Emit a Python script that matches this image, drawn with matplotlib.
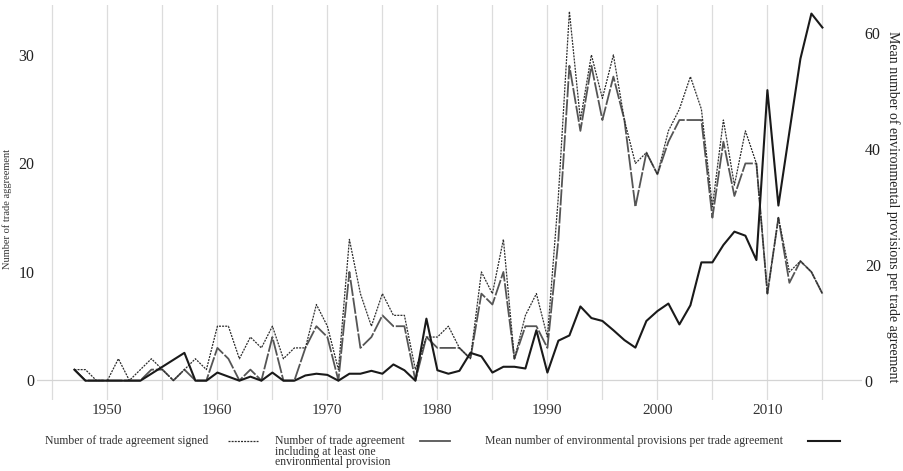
import numpy as np
import matplotlib
matplotlib.use('Agg')
import matplotlib.pyplot as plt
from matplotlib.lines import Line2D

plt.rcParams['font.family'] = ['Liberation Serif', 'DejaVu Serif']

# data
years = list(range(1947, 2016))

signed = [1, 1, 0, 0, 2, 0, 1, 2, 1, 0,
          1, 2, 1, 5, 5, 2, 4, 3, 5, 2,
          3, 3, 7, 5, 1, 13, 8, 5, 8, 6,
          6, 1, 4, 4, 5, 3, 2, 10, 8, 13,
          2, 6, 8, 4, 17, 34, 24, 30, 26, 30,
          24, 20, 21, 19, 23, 25, 28, 25, 16, 24,
          18, 23, 20, 8, 15, 10, 11, 10, 8]

with_env = [1, 0, 0, 0, 0, 0, 0, 1, 1, 0,
            1, 0, 0, 3, 2, 0, 1, 0, 4, 0,
            0, 3, 5, 4, 0, 10, 3, 4, 6, 5,
            5, 0, 4, 3, 3, 3, 2, 8, 7, 10,
            2, 5, 5, 3, 13, 29, 23, 29, 24, 28,
            24, 16, 21, 19, 22, 24, 24, 24, 15, 22,
            17, 20, 20, 8, 15, 9, 11, 10, 8]

mean_prov = [1.9, 0, 0, 0, 0, 0, 0, 1.2, 2.4, 3.6,
             4.8, 0, 0, 1.4, 0.7, 0, 0.7, 0, 1.4, 0,
             0, 0.9, 1.2, 1.0, 0, 1.2, 1.2, 1.7, 1.2, 2.8,
             1.8, 0, 10.7, 1.8, 1.2, 1.7, 4.8, 4.2, 1.4, 2.4,
             2.4, 2.1, 8.7, 1.4, 6.9, 7.8, 12.8, 10.8, 10.3, 8.7,
             7.0, 5.7, 10.3, 12.0, 13.3, 9.7, 13.0, 20.4, 20.4, 23.4,
             25.7, 25.0, 20.8, 50.1, 30.2, 42.9, 55.5, 63.3, 60.9]

left_ticks = [0, 10, 20, 30]
left_ticklabels = ['0', '10', '20', '30']
right_ticks = [0, 20, 40, 60]
right_ticklabels = ['0', '20', '40', '60']
year_ticks = [1950, 1960, 1970, 1980, 1990, 2000, 2010]

fig = plt.figure(figsize=(9.04, 4.71), dpi=100)
ax = fig.add_axes([37/904, 1-400/471, 825/904, 395/471])
ax2 = ax.twinx()

ax.set_xlim(1943.6, 2018.6)
ax.set_ylim(-1.8, 34.6)
ax2.set_ylim(-3.33, 64.78)

# vertical grid every 5 years
for yr in range(1945, 2016, 5):
    ax.axvline(yr, color='#dcdcdc', lw=0.9, zorder=0)
ax.axhline(0, color='#d4d4d4', lw=0.9, zorder=0)

ax.plot(years, signed, color='#2e2e2e', lw=0.9, dashes=(1.6, 0.9), zorder=3)
ax.plot(years, with_env, color='#555555', lw=1.3, dashes=(9, 1.0), zorder=2)
ax2.plot(years, mean_prov, color='#1a1a1a', lw=1.5, zorder=4)

for a in (ax, ax2):
    for s in a.spines.values():
        s.set_visible(False)
    a.tick_params(length=0)

ax.set_xticks(year_ticks)
ax.set_xticklabels([str(y) for y in year_ticks], fontsize=11, color='#333333')
ax.tick_params(axis='x', pad=3)
ax.set_yticks(left_ticks)
ax.set_yticklabels(left_ticklabels, fontsize=11.5, color='#222222')
ax.tick_params(axis='y', pad=2)
ax2.set_yticks(right_ticks)
ax2.set_yticklabels(right_ticklabels, fontsize=11.5, color='#222222')
ax2.tick_params(axis='y', pad=2)

ax.set_ylabel('Number of trade aggreement', fontsize=7.5, color='#333333')
ax.yaxis.set_label_coords(-0.030, 0.484)
ax2.set_ylabel('Mean number of environmental provisions per trade agreement',
               fontsize=10, color='#222222', rotation=-90, va='center')
ax2.yaxis.set_label_coords(1.038, 0.489)

# legend drawn by hand: text first, line sample after
ly = 1 - 441/471
txt_kw = dict(fontsize=8.5, color='#333333', ha='left')
fig.text(45/904, ly, 'Number of trade agreement signed', va='center', **txt_kw)
fig.text(275/904, 1 - 435/471,
         'Number of trade agreement\nincluding at least one\nenvironmental provision',
         va='top', linespacing=0.85, **txt_kw)
fig.text(485/904, ly, 'Mean number of environmental provisions per trade agreement',
         va='center', **txt_kw)

fig.add_artist(Line2D([228/904, 258/904], [ly, ly], color='#2e2e2e', lw=0.9,
                      dashes=(1.6, 0.9)))
fig.add_artist(Line2D([420/904, 450/904], [ly, ly], color='#555555', lw=1.3))
fig.add_artist(Line2D([808/904, 840/904], [ly, ly], color='#1a1a1a', lw=1.5))

fig.savefig('out.png', dpi=100)
